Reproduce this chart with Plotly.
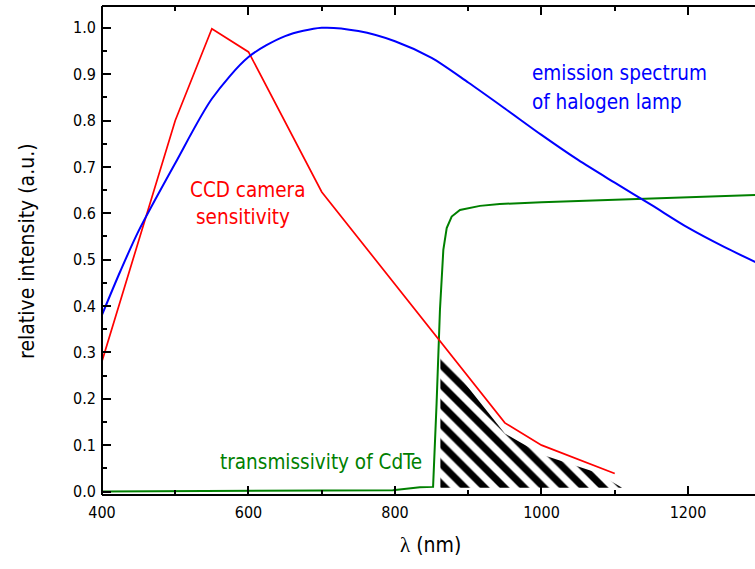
import plotly.graph_objects as go

# ---- data ----
ccd_x = [400, 500, 550, 600, 700, 950, 1000, 1100]
ccd_y = [0.281, 0.800, 0.998, 0.948, 0.646, 0.148, 0.100, 0.039]

lamp_x = [400, 425, 450, 500, 550, 600, 650, 700, 750, 800, 850, 900, 950, 1000, 1050,
          1100, 1150, 1200, 1250, 1300]
lamp_y = [0.381, 0.475, 0.562, 0.708, 0.847, 0.937, 0.982, 1.000, 0.993, 0.971, 0.935,
          0.882, 0.826, 0.769, 0.715, 0.666, 0.618, 0.569, 0.527, 0.489]

cdte_x = [400, 600, 797, 834, 852, 856.8, 861.4, 866, 870.6, 877.4, 888.7, 916, 943, 1000, 1137, 1300]
cdte_y = [0.000, 0.002, 0.003, 0.009, 0.010, 0.190, 0.392, 0.521, 0.568, 0.593, 0.607, 0.616,
          0.620, 0.624, 0.632, 0.640]

hatch_x = [862, 862, 950, 1000, 1075, 1110, 862]
hatch_y = [0.008, 0.300, 0.125, 0.080, 0.041, 0.008, 0.008]

x_ticks = [400, 600, 800, 1000, 1200]
y_ticks = [0.0, 0.1, 0.2, 0.3, 0.4, 0.5, 0.6, 0.7, 0.8, 0.9, 1.0]

FONT = "DejaVu Sans Condensed, DejaVu Sans, sans-serif"
RED, BLUE, GREEN = "#ff0000", "#0000ff", "#008000"

fig = go.Figure()
fig.add_trace(go.Scatter(x=hatch_x, y=hatch_y, mode="lines", fill="toself",
                         line=dict(width=0, color="rgba(0,0,0,0)"),
                         fillcolor="white",
                         fillpattern=dict(shape="\\", fgcolor="black", bgcolor="white",
                                          fgopacity=1, size=14, solidity=0.5),
                         hoverinfo="skip", showlegend=False))
fig.add_trace(go.Scatter(x=cdte_x, y=cdte_y, mode="lines",
                         line=dict(color=GREEN, width=2), showlegend=False))
fig.add_trace(go.Scatter(x=ccd_x, y=ccd_y, mode="lines",
                         line=dict(color=RED, width=1.7), showlegend=False))
fig.add_trace(go.Scatter(x=lamp_x, y=lamp_y, mode="lines",
                         line=dict(color=BLUE, width=2, shape="spline", smoothing=0.8),
                         showlegend=False))

yr = [-0.0075, 1.047]
fig.update_layout(
    width=755, height=569,
    margin=dict(l=102, r=0, t=6, b=74),
    paper_bgcolor="white", plot_bgcolor="white",
    font=dict(family=FONT, size=16, color="black"),
    xaxis=dict(range=[400, 1291.5], showgrid=False, zeroline=False,
               showline=False, mirror="ticks",
               ticks="inside", ticklen=9, tickwidth=2, tickcolor="black",
               tickvals=x_ticks, ticktext=[str(v) for v in x_ticks],
               ticklabelstandoff=6,
               minor=dict(dtick=100, tick0=400, ticks="inside", ticklen=5,
                          tickwidth=2, tickcolor="black"),
               tickfont=dict(size=16)),
    yaxis=dict(range=yr, showgrid=False, zeroline=False,
               showline=False, mirror=False,
               ticks="inside", ticklen=9, tickwidth=2, tickcolor="black",
               tickvals=y_ticks, ticktext=[f"{v:.1f}" for v in y_ticks],
               ticklabelstandoff=5,
               minor=dict(dtick=0.05, tick0=0, ticks="inside", ticklen=5,
                          tickwidth=2, tickcolor="black"),
               tickfont=dict(size=16)),
)

# frame: left, bottom and top edges only (the right edge lies outside the picture)
frame = dict(type="line", xref="paper", yref="paper", line=dict(color="black", width=2))
fig.add_shape(x0=0, x1=0, y0=0, y1=1, **frame)
fig.add_shape(x0=0, x1=1, y0=0, y1=0, **frame)
fig.add_shape(x0=0, x1=1, y0=1, y1=1, **frame)

ann = [
    dict(text="CCD camera", x=599, y=0.651, color=RED, xanchor="center"),
    dict(text="sensitivity", x=593, y=0.591, color=RED, xanchor="center"),
    dict(text="emission spectrum", x=984, y=0.9025, color=BLUE, xanchor="left"),
    dict(text="of halogen lamp", x=984, y=0.841, color=BLUE, xanchor="left"),
    dict(text="transmissivity of CdTe", x=699, y=0.063, color=GREEN, xanchor="center"),
]
for a in ann:
    fig.add_annotation(x=a["x"], y=a["y"], xref="x", yref="y", text=a["text"],
                       showarrow=False, xanchor=a["xanchor"], yanchor="middle",
                       font=dict(family=FONT, size=20.5, color=a["color"]))

# axis titles
fig.add_annotation(x=-0.115, y=0.499, xref="paper", yref="paper",
                   text="relative intensity (a.u.)", textangle=-90, showarrow=False,
                   xanchor="center", yanchor="middle",
                   font=dict(family=FONT, size=21, color="black"))
fig.add_annotation(x=0.503, y=-0.102, xref="paper", yref="paper",
                   text="<span style='font-family:Liberation Serif'>λ</span> (nm)",
                   showarrow=False, xanchor="center", yanchor="middle",
                   font=dict(family=FONT, size=21, color="black"))

fig.write_html("out.html")
